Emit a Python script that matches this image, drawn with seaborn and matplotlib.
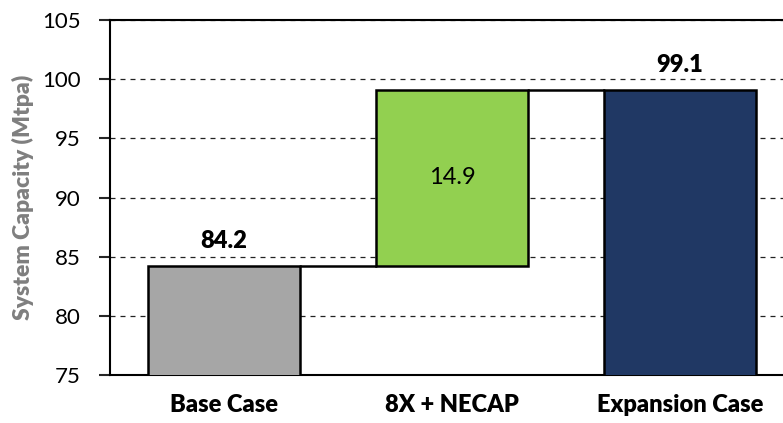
import matplotlib
matplotlib.use("Agg")
import matplotlib.pyplot as plt
import seaborn as sns
import pandas as pd

# Waterfall: base capacity, increment, resulting capacity
categories = ["Base Case", "8X + NECAP", "Expansion Case"]
values = [84.2, 14.9, 99.1]
bar_colors = ["#A6A6A6", "#92D050", "#203864"]
y_ticks = [75, 80, 85, 90, 95, 100, 105]

base_val, delta_val, total_val = values
bottoms = [0, base_val, 0]

df = pd.DataFrame({"case": categories, "value": values})

sns.set_style("white")
plt.rcParams["font.family"] = ["Lato", "DejaVu Sans"]

fig = plt.figure(figsize=(7.83, 4.23), dpi=100)
ax = fig.add_axes([110 / 783, 48 / 423, 684 / 783, 355 / 423])

sns.barplot(data=df, x="case", y="value", order=categories, color="#A6A6A6",
            saturation=1, width=2 / 3, bottom=bottoms, edgecolor="black",
            linewidth=1.8, ax=ax, zorder=3)
for patch, c in zip(ax.patches, bar_colors):
    patch.set_facecolor(c)

# connector lines between successive bars
half = 1 / 3
ax.plot([0 + half, 1 - half], [base_val, base_val], color="black", lw=1.8, zorder=4)
ax.plot([1 + half, 2 - half], [total_val, total_val], color="black", lw=1.8, zorder=4)

ax.set_xlim(-0.5, 2.5)
ax.set_ylim(75, 105)
ax.set_yticks(y_ticks)
ax.set_yticklabels([str(t) for t in y_ticks], fontsize=16, color="black")
ax.set_xticks(range(len(categories)))
ax.set_xticklabels(categories, fontsize=17, fontweight="heavy", color="black")
ax.tick_params(axis="x", length=0, pad=14)
ax.tick_params(axis="y", direction="out", length=8, width=1.5, pad=13, left=True)

ax.yaxis.grid(True, linestyle=(0, (4, 4)), color="#222222", linewidth=0.9, zorder=0)
ax.set_axisbelow(True)

for side in ["left", "bottom", "top"]:
    ax.spines[side].set_visible(True)
    ax.spines[side].set_color("black")
    ax.spines[side].set_linewidth(1.5)
ax.spines["right"].set_visible(False)

ax.set_xlabel("")
ax.set_ylabel("System Capacity (Mtpa)", fontsize=16.5, fontweight="heavy",
              color="#7F7F7F", labelpad=6)

# value labels
ax.text(0, base_val + 1.2, f"{base_val:.1f}", ha="center", va="bottom",
        fontsize=17, fontweight="heavy", color="black")
ax.text(1, base_val + delta_val / 2, f"{delta_val:.1f}", ha="center", va="center",
        fontsize=17, color="black", zorder=5)
ax.text(2, total_val + 1.2, f"{total_val:.1f}", ha="center", va="bottom",
        fontsize=17, fontweight="heavy", color="black")

fig.savefig("out.png", dpi=100)
